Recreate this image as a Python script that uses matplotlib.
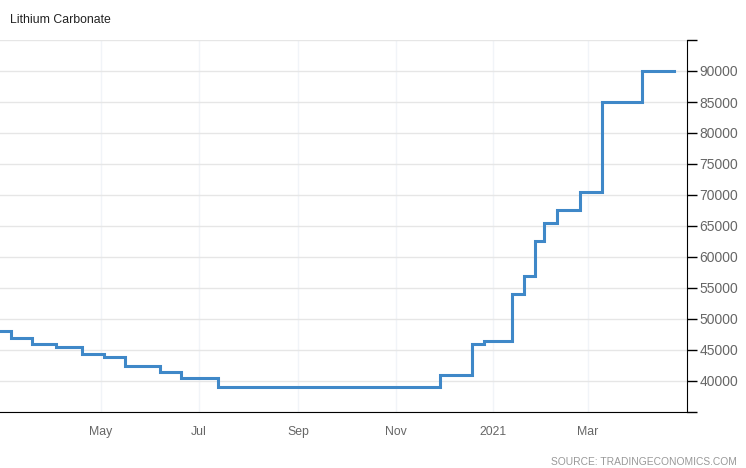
#! /usr/bin/env python3
'''
Lithium Carbonate price step chart
'''
import pandas as pd
import numpy as np
import matplotlib
matplotlib.use('Agg')
import matplotlib.pyplot as plt
import matplotlib.dates as mdates

# price change dates and the new price from that date on
change_dates = ['2020-02-20', '2020-03-06', '2020-03-19', '2020-04-03', '2020-04-19',
                '2020-05-03', '2020-05-16', '2020-06-07', '2020-06-20', '2020-07-13',
                '2020-11-29', '2020-12-19', '2020-12-26', '2021-01-13', '2021-01-20',
                '2021-01-27', '2021-02-02', '2021-02-10', '2021-02-24', '2021-03-10',
                '2021-04-04', '2021-04-24']
prices = [48000, 47000, 46000, 45500, 44300,
          43800, 42500, 41500, 40500, 39000,
          41000, 46000, 46500, 54000, 57000,
          62500, 65500, 67500, 70500, 85000,
          90000, 90000]

month_ticks = ['2020-05-01', '2020-07-01', '2020-09-01', '2020-11-01', '2021-01-01', '2021-03-01']
month_labels = ['May', 'Jul', 'Sep', 'Nov', '2021', 'Mar']
y_ticks = list(range(35000, 95001, 5000))


def plot_line(outfile):
	plt.rcParams['font.family'] = ['Liberation Sans', 'DejaVu Sans']
	fig = plt.figure(figsize=(7.46, 4.68), dpi=100)
	ax = fig.add_axes([0, 1 - 412 / 468, 687 / 746, 372 / 468])

	dates = pd.to_datetime(change_dates)
	ax.plot(dates, prices, drawstyle='steps-post', color='#3f88c8', linewidth=2.2,
		solid_joinstyle='miter', zorder=3)

	ax.set_xlim(pd.Timestamp('2020-02-28'), pd.Timestamp('2021-05-02'))
	ax.set_ylim(35000, 95000)

	ax.yaxis.tick_right()
	ax.set_yticks(y_ticks)
	ax.set_yticklabels(['' if v in (35000, 95000) else str(v) for v in y_ticks])
	ax.tick_params(axis='y', direction='out', length=7, width=1, color='black',
		labelsize=10, labelcolor='#666666', pad=2)

	ax.set_xticks(pd.to_datetime(month_ticks))
	ax.set_xticklabels(month_labels)
	ax.tick_params(axis='x', length=0, labelsize=8.8, labelcolor='#666666', pad=10)

	ax.grid(axis='y', color='#e6e6e6', linewidth=1)
	ax.grid(axis='x', color='#f1f4f8', linewidth=1)
	ax.set_axisbelow(True)

	for s in ['top', 'left']:
		ax.spines[s].set_visible(False)
	ax.spines['right'].set_color('black')
	ax.spines['bottom'].set_color('black')

	fig.text(10 / 746, 1 - 20 / 468, 'Lithium Carbonate', fontsize=8.8, color='#222222',
		ha='left', va='center')
	fig.text(737 / 746, 1 - 462 / 468, 'SOURCE: TRADINGECONOMICS.COM', fontsize=7.4,
		color='#999999', ha='right', va='center')

	fig.savefig(outfile, dpi=100)


def main():
	plot_line('out.png')


if __name__ == '__main__':
	main()
